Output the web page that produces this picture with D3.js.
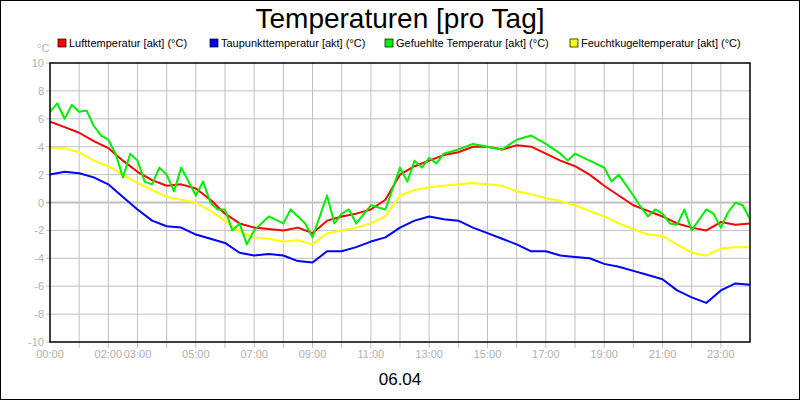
<!DOCTYPE html><html><head><meta charset="utf-8">
<script src="https://cdn.jsdelivr.net/npm/d3@7"></script>
<style>body{margin:0;background:#fff}svg{display:block;font-family:"Liberation Sans",Arial,sans-serif}</style></head><body>
<svg id="c" width="800" height="400"></svg>
<script>
const seriesNames=["Lufttemperatur [akt] (°C)","Taupunkttemperatur [akt] (°C)","Gefuehlte Temperatur [akt] (°C)","Feuchtkugeltemperatur [akt] (°C)"];
const seriesColors=["#ff0000","#0000ff","#00ee00","#ffff00"];
const halfHours=d3.range(0,24.01,0.5);
const luftValues=[5.8,5.4,5.0,4.4,3.9,3.0,2.2,1.6,1.2,1.3,1.0,0.2,-0.8,-1.5,-1.8,-1.9,-2.0,-1.8,-2.2,-1.3,-1.0,-0.8,-0.5,0.2,2.0,2.6,3.0,3.4,3.6,4.0,4.0,3.8,4.1,4.0,3.5,3.0,2.6,2.0,1.2,0.5,-0.2,-0.6,-1.0,-1.5,-1.8,-2.0,-1.4,-1.6,-1.5];
const taupunktValues=[2.0,2.2,2.1,1.8,1.3,0.4,-0.5,-1.3,-1.7,-1.8,-2.3,-2.6,-2.9,-3.6,-3.8,-3.7,-3.8,-4.2,-4.3,-3.5,-3.5,-3.2,-2.8,-2.5,-1.8,-1.3,-1.0,-1.2,-1.3,-1.8,-2.2,-2.6,-3.0,-3.5,-3.5,-3.8,-3.9,-4.0,-4.4,-4.6,-4.9,-5.2,-5.5,-6.3,-6.8,-7.2,-6.3,-5.8,-5.9];
const feuchtValues=[3.9,3.9,3.6,3.0,2.6,2.0,1.4,0.9,0.4,0.2,0.0,-0.6,-1.3,-2.1,-2.5,-2.6,-2.8,-2.7,-3.0,-2.2,-2.0,-1.8,-1.5,-1.0,0.5,0.9,1.1,1.2,1.3,1.4,1.3,1.2,0.8,0.6,0.3,0.1,-0.2,-0.6,-1.0,-1.5,-1.9,-2.3,-2.4,-3.0,-3.6,-3.8,-3.3,-3.2,-3.2];
const gefHours=[0,0.25,0.5,0.75,1,1.25,1.5,1.75,2,2.25,2.5,2.75,3,3.25,3.5,3.75,4,4.25,4.5,4.75,5,5.25,5.5,5.75,6,6.25,6.5,6.75,7,7.5,8,8.25,8.5,8.75,9,9.25,9.5,9.75,10,10.25,10.5,11,11.5,11.75,12,12.25,12.5,12.75,13,13.25,13.5,14,14.5,15,15.5,16,16.5,17,17.5,17.75,18,18.5,19,19.25,19.5,20,20.25,20.5,20.75,21,21.25,21.5,21.75,22,22.5,22.75,23,23.25,23.5,23.75,24];
const gefValues=[6.5,7.1,6.0,7.0,6.5,6.6,5.5,4.8,4.5,3.5,1.8,3.5,3.0,1.5,1.3,2.5,2.0,0.8,2.5,1.5,0.5,1.5,0.0,-0.5,-0.5,-2.0,-1.5,-3.0,-2.0,-1.0,-1.5,-0.5,-1.0,-1.5,-2.5,-1.0,0.5,-1.5,-0.8,-0.5,-1.5,-0.2,-0.5,1.0,2.5,1.5,3.0,2.5,3.2,2.8,3.5,3.8,4.2,4.0,3.8,4.5,4.8,4.2,3.5,3.0,3.5,3.0,2.5,1.5,2.0,0.5,-0.3,-1.0,-0.5,-0.8,-1.5,-1.6,-0.5,-2.0,-0.5,-0.8,-1.8,-0.7,0.0,-0.2,-1.2];
const yTicks=[-10,-8,-6,-4,-2,0,2,4,6,8,10];
const xLabelHours=[0,2,3,5,7,9,11,13,15,17,19,21,23];
const titleText="Temperaturen [pro Tag]", dateText="06.04";

const svg=d3.select("#c");
svg.append("rect").attr("x",0.5).attr("y",0.5).attr("width",799).attr("height",399).attr("fill","#fff").attr("stroke","#000");
const L=50,R=750,T=63,B=342;
const x=d3.scaleLinear().domain([0,24]).range([L,R]);
const y=d3.scaleLinear().domain([-10,10]).range([B,T]);
const g=svg.append("g");
g.selectAll(".vg").data(d3.range(1,24)).join("line").attr("x1",d=>x(d)).attr("x2",d=>x(d)).attr("y1",T).attr("y2",B+6).attr("stroke","#c0c0c0");
g.selectAll(".hg").data(yTicks.filter(v=>v!==-10&&v!==10)).join("line").attr("x1",L-4).attr("x2",R).attr("y1",d=>y(d)).attr("y2",d=>y(d)).attr("stroke","#c0c0c0").attr("stroke-width",d=>d===0?2:1);
g.append("line").attr("x1",L-4).attr("x2",L).attr("y1",T).attr("y2",T).attr("stroke","#c0c0c0");
g.append("line").attr("x1",L-4).attr("x2",L).attr("y1",B).attr("y2",B).attr("stroke","#c0c0c0");
g.selectAll(".yl").data(yTicks).join("text").attr("x",L-6).attr("y",d=>y(d)+4).attr("text-anchor","end").attr("font-size",11).attr("fill","#b0b0b0").text(d=>d);
g.append("text").attr("x",37).attr("y",52).attr("text-anchor","start").attr("font-size",11).attr("fill","#b0b0b0").text("°C");
g.selectAll(".xl").data(xLabelHours).join("text").attr("x",d=>x(d)).attr("y",358).attr("text-anchor","middle").attr("font-size",11).attr("fill","#b0b0b0").text(d=>String(d).padStart(2,"0")+":00");
const line=d3.line().x(d=>x(d[0])).y(d=>y(d[1]));
const data=[d3.zip(halfHours,luftValues),d3.zip(halfHours,taupunktValues),d3.zip(gefHours,gefValues),d3.zip(halfHours,feuchtValues)];
const order=[1,3,0,2];
const clip=svg.append("clipPath").attr("id","pc").append("rect").attr("x",L).attr("y",T).attr("width",R-L).attr("height",B-T);
order.forEach(i=>svg.append("path").attr("clip-path","url(#pc)").attr("d",line(data[i])).attr("fill","none").attr("stroke",seriesColors[i]).attr("stroke-width",2).attr("stroke-linejoin","round"));
svg.append("rect").attr("x",L).attr("y",T).attr("width",R-L).attr("height",B-T).attr("fill","none").attr("stroke","#000").attr("stroke-width",1.5);
svg.append("text").attr("x",400).attr("y",28).attr("text-anchor","middle").attr("font-size",28).text(titleText);
const legX=[58,210,385,570];
seriesNames.forEach((n,i)=>{
 svg.append("rect").attr("x",legX[i]).attr("y",39).attr("width",8).attr("height",8).attr("fill",seriesColors[i]).attr("stroke","#000").attr("stroke-width",0.7);
 svg.append("text").attr("x",legX[i]+11).attr("y",47).attr("font-size",11).text(n);
});
svg.append("text").attr("x",400).attr("y",385).attr("text-anchor","middle").attr("font-size",17).text(dateText);
</script></body></html>
